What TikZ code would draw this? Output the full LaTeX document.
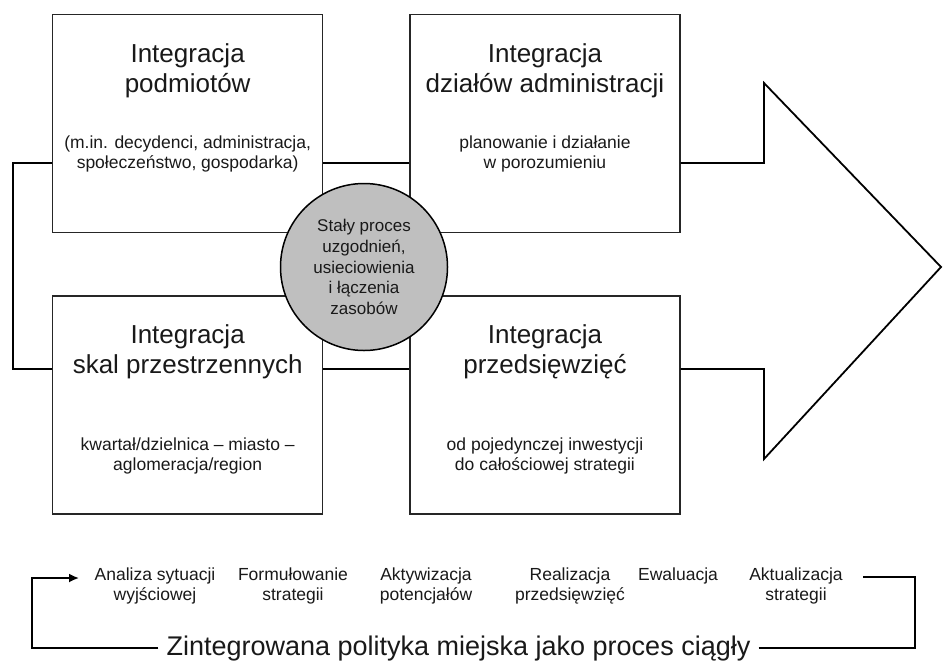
\documentclass[tikz,border=0pt]{standalone}
\usepackage{fontspec}
\setmainfont{Liberation Sans}
\usetikzlibrary{positioning, arrows.meta}

\begin{document}
\begin{tikzpicture}[x=1pt, y=-1pt, node distance=86pt,
    kasten/.style={draw=black!85, line width=1.3pt, fill=white, minimum width=270pt, minimum height=218pt, inner sep=0pt},
    titel/.style={align=center, inner sep=0pt, font=\fontsize{26}{30}\selectfont, text=black!90},
    opis/.style={align=center, inner sep=0pt, font=\fontsize{17.5}{20}\selectfont, text=black!90},
    proces/.style={circle, draw=black, line width=1.5pt, fill=black!25, minimum size=167pt, inner sep=0pt, align=center, font=\fontsize{17}{20.6}\selectfont, text=black!90},
    etap/.style={align=center, anchor=north, inner sep=0pt, font=\fontsize{17.5}{20}\selectfont, text=black!90},
    linie/.style={line width=1.8pt, line join=miter},
    pfeil/.style={linie, -{Latex[length=10pt, width=9pt]}}]
    \useasboundingbox[fill=white] (0,0) rectangle (944,665);

    \node[kasten, anchor=north west] (podm) at (52,14) {};
    \node[kasten, right=of podm] (dzial) {};
    \node[kasten, below=62pt of podm] (skal) {};
    \node[kasten, right=of skal] (przed) {};

    \node[titel, below=29.5pt of podm.north] (podm-t) {Integracja\\podmiotów};
    \node[titel, below=29.5pt of dzial.north] (dzial-t) {Integracja\\działów administracji};
    \node[titel, below=29.5pt of skal.north] (skal-t) {Integracja\\skal przestrzennych};
    \node[titel, below=29.5pt of przed.north] (przed-t) {Integracja\\przedsięwzięć};

    \node[opis, below=121.5pt of podm.north] (podm-o) {(m.in. decydenci, administracja,\\społeczeństwo, gospodarka)};
    \node[opis, below=121.5pt of dzial.north] (dzial-o) {planowanie i działanie\\w porozumieniu};
    \node[opis, below=142pt of skal.north] (skal-o) {kwartał/dzielnica – miasto –\\aglomeracja/region};
    \node[opis, below=142pt of przed.north] (przed-o) {od pojedynczej inwestycji\\do całościowej strategii};

    \coordinate (lo) at (13,163);
    \coordinate (lu) at (13,369);
    \coordinate (kopfo) at (764,83);
    \coordinate (spitze) at (941,267);
    \coordinate (kopfu) at (764,459);
    \draw[linie] (lo -| podm.west) -- (lo) -- (lu) -- (lu -| skal.west);
    \draw[linie] (lo -| podm.east) -- (lo -| dzial.west);
    \draw[linie] (lu -| skal.east) -- (lu -| przed.west);
    \draw[linie] (lo -| dzial.east) -- (lo -| kopfo) -- (kopfo) -- (spitze) -- (kopfu) -- (lu -| kopfu) -- (lu -| przed.east);

    \node[proces] (proc) at (364,267) {Stały proces\\uzgodnień,\\usieciowienia\\i łączenia\\zasobów};

    \node[etap] (anal) at (155,568) {Analiza sytuacji\\wyjściowej};
    \node[etap] (form) at (293,568) {Formułowanie\\strategii};
    \node[etap] (aktyw) at (426,568) {Aktywizacja\\potencjałów};
    \node[etap] (real) at (570,568) {Realizacja\\przedsięwzięć};
    \node[etap] (ewal) at (678,568) {Ewaluacja};
    \node[etap] (aktu) at (796,568) {Aktualizacja\\strategii};

    \node[font=\fontsize{27}{32}\selectfont, inner xsep=8pt, inner ysep=0pt, anchor=base, text=black!90] (zint) at (458.5,655) {Zintegrowana polityka miejska jako proces ciągły};

    \coordinate (lk) at (32,578);
    \coordinate (lpfeil) at (79,578);
    \coordinate (rk) at (915,577);
    \coordinate (rend) at (863,577);
    \draw[pfeil] (zint.west) -| (lk) -- (lpfeil);
    \draw[linie] (zint.east) -| (rk) -- (rend);
\end{tikzpicture}
\end{document}
